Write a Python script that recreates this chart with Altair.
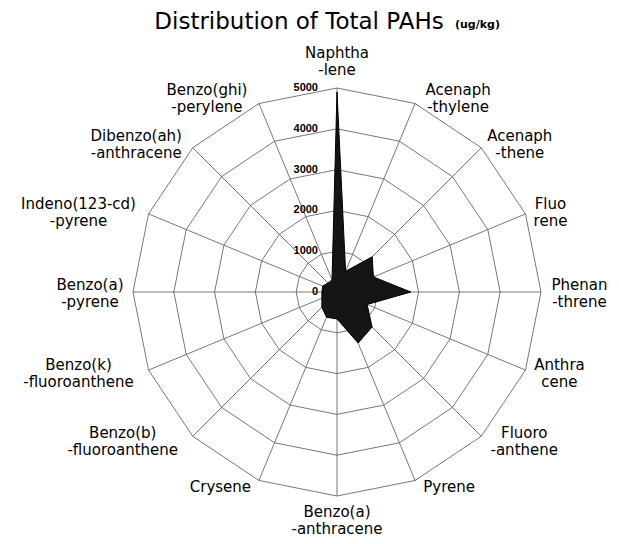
import math
import altair as alt
import pandas as pd

# ---------------- data ----------------
title_text = "Distribution of Total PAHs"
unit_text = "(ug/kg)"
categories = [
    "Naphtha\n-lene", "Acenaph\n-thylene", "Acenaph\n-thene", "Fluo\nrene",
    "Phenan\n-threne", "Anthra\ncene", "Fluoro\n-anthene", "Pyrene",
    "Benzo(a)\n-anthracene", "Crysene", "Benzo(b)\n-fluoroanthene",
    "Benzo(k)\n-fluoroanthene", "Benzo(a)\n-pyrene", "Indeno(123-cd)\n-pyrene",
    "Dibenzo(ah)\n-anthracene", "Benzo(ghi)\n-perylene",
]
values = [4900, 550, 1220, 965, 1810, 800, 1215, 1355,
          660, 670, 525, 400, 370, 380, 310, 320]
ring_levels = [1000, 2000, 3000, 4000, 5000]
tick_values = [0, 1000, 2000, 3000, 4000, 5000]
tick_labels = ["0", "1000", "2000", "3000", "4000", "5000"]

# ---------------- layout ----------------
W, H = 603, 536          # plot area (page minus margins)
CX, CY, R = 329, 284, 204  # center & outer radius in plot pixels
RMAX = 5000
U = RMAX / R             # data units per pixel
LH = 17                  # label line height
x_dom = [-CX * U, (W - CX) * U]
y_dom = [-(H - CY) * U, CY * U]
N = len(categories)

xs = alt.Scale(domain=x_dom, nice=False, zero=False)
ys = alt.Scale(domain=y_dom, nice=False, zero=False)

def ang(i):
    return 2 * math.pi * i / N

# polygon (closed)
poly = pd.DataFrame({
    "idx": list(range(N)) + [N],
    "value": values + [values[0]],
})
poly["x"] = [v * math.sin(ang(i)) for i, v in zip(poly["idx"], poly["value"])]
poly["y"] = [v * math.cos(ang(i)) for i, v in zip(poly["idx"], poly["value"])]

# rings
ring_rows = []
for lv in ring_levels:
    for i in range(N + 1):
        ring_rows.append({"level": lv, "idx": i,
                          "x": lv * math.sin(ang(i)), "y": lv * math.cos(ang(i))})
rings = pd.DataFrame(ring_rows)

# spokes
spokes = pd.DataFrame({"idx": list(range(N))})
spokes["x"] = 0.0
spokes["y"] = 0.0
spokes["x2"] = [RMAX * math.sin(ang(i)) for i in spokes["idx"]]
spokes["y2"] = [RMAX * math.cos(ang(i)) for i in spokes["idx"]]

# category labels
lab_rows = []
for i, txt in enumerate(categories):
    a = ang(i)
    s, c = math.sin(a), math.cos(a)
    lines = txt.split("\n")
    maxlen = max(len(t) for t in lines)
    hw = maxlen * 4.5
    if abs(s) < 0.2:
        shift = 0.0
    else:
        shift = math.copysign(hw + 7, s)
    if c > 0.95:
        dy = -26.5
    elif c < -0.95:
        dy = 24
    else:
        dy = -6 * c + 1
    dy -= (len(lines) - 1) * LH / 2   # vega puts first line at y
    lab_rows.append({"label": txt,
                     "x": RMAX * s + shift * U,
                     "y": RMAX * c - dy * U})
labels = pd.DataFrame(lab_rows)

ticks = pd.DataFrame({"v": tick_values, "t": tick_labels})
ticks["x"] = 0.0

# ---------------- chart ----------------
ring_layer = alt.Chart(rings).mark_line(color="#555555", strokeWidth=0.8).encode(
    x=alt.X("x:Q", scale=xs, axis=None),
    y=alt.Y("y:Q", scale=ys, axis=None),
    detail="level:N",
    order="idx:Q",
)

spoke_layer = alt.Chart(spokes).mark_rule(color="#555555", strokeWidth=0.8).encode(
    x=alt.X("x:Q", scale=xs, axis=None),
    y=alt.Y("y:Q", scale=ys, axis=None),
    x2="x2:Q",
    y2="y2:Q",
)

poly_layer = alt.Chart(poly).mark_line(
    fill="#151515", stroke="#000000", strokeWidth=1, strokeJoin="miter"
).encode(
    x=alt.X("x:Q", scale=xs, axis=None),
    y=alt.Y("y:Q", scale=ys, axis=None),
    order="idx:Q",
)

tick_layer = alt.Chart(ticks).mark_text(
    align="right", baseline="middle", dx=-19, font="Liberation Sans",
    fontSize=11, fontWeight="bold", color="#000000",
).encode(
    x=alt.X("x:Q", scale=xs, axis=None),
    y=alt.Y("v:Q", scale=ys, axis=None),
    text="t:N",
)

label_layer = alt.Chart(labels).mark_text(
    align="center", baseline="middle", lineBreak="\n", lineHeight=LH,
    font="DejaVu Sans", fontSize=15, color="#000000",
).encode(
    x=alt.X("x:Q", scale=xs, axis=None),
    y=alt.Y("y:Q", scale=ys, axis=None),
    text="label:N",
)

title_df = pd.DataFrame({"t": [title_text]})
title_layer = alt.Chart(title_df).mark_text(
    align="center", baseline="alphabetic", font="DejaVu Sans", fontSize=23,
    color="#000000",
).encode(x=alt.value(291), y=alt.value(21), text="t:N")

unit_df = pd.DataFrame({"t": [unit_text]})
unit_layer = alt.Chart(unit_df).mark_text(
    align="left", baseline="alphabetic", font="DejaVu Sans", fontSize=11,
    fontWeight="bold", color="#000000",
).encode(x=alt.value(447), y=alt.value(20), text="t:N")

chart = alt.layer(
    ring_layer, spoke_layer, poly_layer, tick_layer, label_layer,
    title_layer, unit_layer,
).properties(
    width=W, height=H, autosize=alt.AutoSizeParams(type="none"), padding=0,
    background="white",
).configure_view(stroke=None)

chart.save("out.html", embed_options={"renderer": "svg", "actions": False})
